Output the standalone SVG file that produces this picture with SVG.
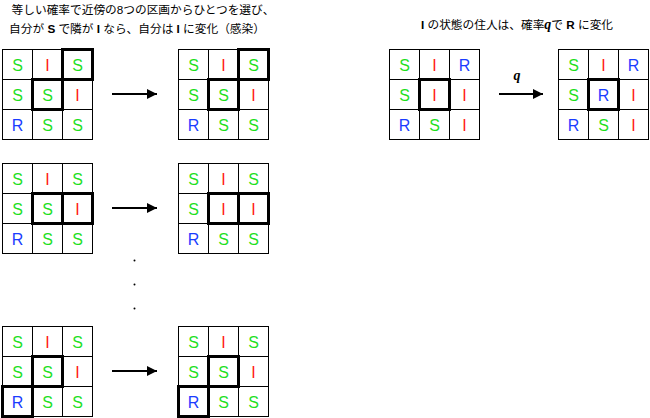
<svg xmlns="http://www.w3.org/2000/svg" width="650" height="418" viewBox="0 0 650 418">
<defs>
<style>
.cell{fill:#fff;stroke:#000;stroke-width:1}
.hl{fill:none;stroke:#000;stroke-width:3}
.L{font-family:"Liberation Sans",Arial,sans-serif;font-size:16px;text-anchor:middle}
.S{fill:#1fe01f}
.I{fill:#ff2010}
.R{fill:#1a3cff}
.jp{font-family:"Liberation Sans","Noto Sans CJK JP",sans-serif;font-size:11.7px;fill:#000;text-anchor:middle}
.b{font-weight:bold}
.arr{stroke:#000;stroke-width:2;fill:none}
</style>
<marker id="ah" viewBox="0 0 10 10" refX="10" refY="5" markerWidth="6" markerHeight="5" markerUnits="strokeWidth" orient="auto">
<path d="M0,0 L10,5 L0,10 z" fill="#000"/>
</marker>
<g id="cells">
<rect class="cell" x="0" y="0" width="30" height="30"/>
<rect class="cell" x="30" y="0" width="30" height="30"/>
<rect class="cell" x="60" y="0" width="30" height="30"/>
<rect class="cell" x="0" y="30" width="30" height="30"/>
<rect class="cell" x="30" y="30" width="30" height="30"/>
<rect class="cell" x="60" y="30" width="30" height="30"/>
<rect class="cell" x="0" y="60" width="30" height="30"/>
<rect class="cell" x="30" y="60" width="30" height="30"/>
<rect class="cell" x="60" y="60" width="30" height="30"/>
</g>
</defs>

<text class="jp" x="143" y="14">等しい確率で近傍の8つの区画からひとつを選び、</text>
<text class="jp" x="137" y="33">自分が <tspan class="b">S</tspan> で隣が <tspan class="b">I</tspan> なら、自分は <tspan class="b">I</tspan> に変化（感染）</text>
<text class="jp" x="517" y="29"><tspan class="b">I</tspan> の状態の住人は、確率<tspan style="font-family:'Liberation Serif',serif;font-weight:bold;font-style:italic;font-size:14px">q</tspan>で <tspan class="b">R</tspan> に変化</text>

<g id="grid1" transform="translate(2.5,49.5)">
<use href="#cells"/>
<text class="L S" x="15" y="21">S</text><text class="L I" x="45" y="21">I</text><text class="L S" x="75" y="21">S</text>
<text class="L S" x="15" y="51">S</text><text class="L S" x="45" y="51">S</text><text class="L I" x="75" y="51">I</text>
<text class="L R" x="15" y="81">R</text><text class="L S" x="45" y="81">S</text><text class="L S" x="75" y="81">S</text>
<rect class="hl" x="60" y="0" width="30" height="30"/><rect class="hl" x="30" y="30" width="30" height="30"/>
</g>
<g id="grid2" transform="translate(178.5,49.5)">
<use href="#cells"/>
<text class="L S" x="15" y="21">S</text><text class="L I" x="45" y="21">I</text><text class="L S" x="75" y="21">S</text>
<text class="L S" x="15" y="51">S</text><text class="L S" x="45" y="51">S</text><text class="L I" x="75" y="51">I</text>
<text class="L R" x="15" y="81">R</text><text class="L S" x="45" y="81">S</text><text class="L S" x="75" y="81">S</text>
<rect class="hl" x="60" y="0" width="30" height="30"/><rect class="hl" x="30" y="30" width="30" height="30"/>
</g>
<g id="grid3" transform="translate(2.5,163.5)">
<use href="#cells"/>
<text class="L S" x="15" y="21">S</text><text class="L I" x="45" y="21">I</text><text class="L S" x="75" y="21">S</text>
<text class="L S" x="15" y="51">S</text><text class="L S" x="45" y="51">S</text><text class="L I" x="75" y="51">I</text>
<text class="L R" x="15" y="81">R</text><text class="L S" x="45" y="81">S</text><text class="L S" x="75" y="81">S</text>
<rect class="hl" x="30" y="30" width="30" height="30"/><rect class="hl" x="60" y="30" width="30" height="30"/>
</g>
<g id="grid4" transform="translate(178.5,163.5)">
<use href="#cells"/>
<text class="L S" x="15" y="21">S</text><text class="L I" x="45" y="21">I</text><text class="L S" x="75" y="21">S</text>
<text class="L S" x="15" y="51">S</text><text class="L I" x="45" y="51">I</text><text class="L I" x="75" y="51">I</text>
<text class="L R" x="15" y="81">R</text><text class="L S" x="45" y="81">S</text><text class="L S" x="75" y="81">S</text>
<rect class="hl" x="30" y="30" width="30" height="30"/><rect class="hl" x="60" y="30" width="30" height="30"/>
</g>
<g id="grid5" transform="translate(2.5,326.5)">
<use href="#cells"/>
<text class="L S" x="15" y="21">S</text><text class="L I" x="45" y="21">I</text><text class="L S" x="75" y="21">S</text>
<text class="L S" x="15" y="51">S</text><text class="L S" x="45" y="51">S</text><text class="L I" x="75" y="51">I</text>
<text class="L R" x="15" y="81">R</text><text class="L S" x="45" y="81">S</text><text class="L S" x="75" y="81">S</text>
<rect class="hl" x="30" y="30" width="30" height="30"/><rect class="hl" x="0" y="60" width="30" height="30"/>
</g>
<g id="grid6" transform="translate(178.5,326.5)">
<use href="#cells"/>
<text class="L S" x="15" y="21">S</text><text class="L I" x="45" y="21">I</text><text class="L S" x="75" y="21">S</text>
<text class="L S" x="15" y="51">S</text><text class="L S" x="45" y="51">S</text><text class="L I" x="75" y="51">I</text>
<text class="L R" x="15" y="81">R</text><text class="L S" x="45" y="81">S</text><text class="L S" x="75" y="81">S</text>
<rect class="hl" x="30" y="30" width="30" height="30"/><rect class="hl" x="0" y="60" width="30" height="30"/>
</g>
<g id="grid7" transform="translate(389.5,49.5)">
<use href="#cells"/>
<text class="L S" x="15" y="21">S</text><text class="L I" x="45" y="21">I</text><text class="L R" x="75" y="21">R</text>
<text class="L S" x="15" y="51">S</text><text class="L I" x="45" y="51">I</text><text class="L I" x="75" y="51">I</text>
<text class="L R" x="15" y="81">R</text><text class="L S" x="45" y="81">S</text><text class="L I" x="75" y="81">I</text>
<rect class="hl" x="30" y="30" width="30" height="30"/>
</g>
<g id="grid8" transform="translate(558.5,49.5)">
<use href="#cells"/>
<text class="L S" x="15" y="21">S</text><text class="L I" x="45" y="21">I</text><text class="L R" x="75" y="21">R</text>
<text class="L S" x="15" y="51">S</text><text class="L R" x="45" y="51">R</text><text class="L I" x="75" y="51">I</text>
<text class="L R" x="15" y="81">R</text><text class="L S" x="45" y="81">S</text><text class="L I" x="75" y="81">I</text>
<rect class="hl" x="30" y="30" width="30" height="30"/>
</g>

<g id="connectors">
<line class="arr" x1="112" y1="94" x2="157" y2="94" marker-end="url(#ah)"/>
<line class="arr" x1="112" y1="208" x2="157" y2="208" marker-end="url(#ah)"/>
<line class="arr" x1="112" y1="371" x2="157" y2="371" marker-end="url(#ah)"/>
<line class="arr" x1="499" y1="94" x2="543" y2="94" marker-end="url(#ah)"/>
<text x="517" y="80" style="font-family:'Liberation Serif',serif;font-weight:bold;font-style:italic;font-size:14px;text-anchor:middle">q</text>
</g>
<g id="dots" fill="#000">
<circle cx="134.5" cy="260.5" r="1"/>
<circle cx="134.5" cy="284.5" r="1"/>
<circle cx="134.5" cy="308.5" r="1"/>
</g>
</svg>
